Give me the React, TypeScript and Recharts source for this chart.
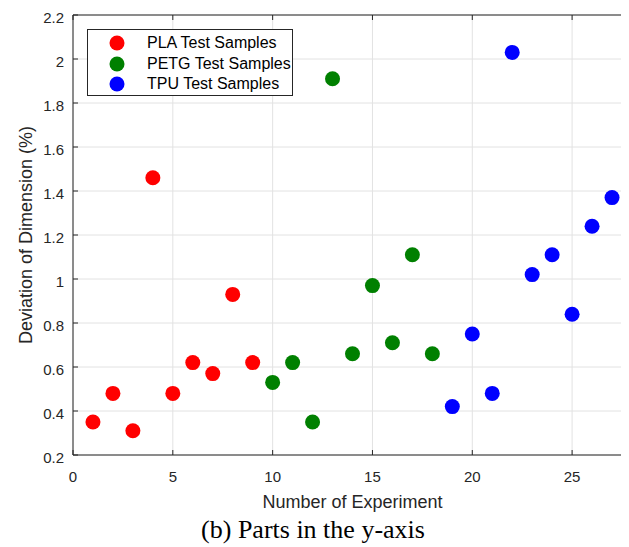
import React from 'react';
import { ScatterChart, Scatter, XAxis, YAxis, CartesianGrid, Legend, Label } from 'recharts';

const SERIES_NAMES = ['PLA Test Samples', 'PETG Test Samples', 'TPU Test Samples'];
const SERIES_COLORS = ['#ff0000', '#008000', '#0000ff'];

const PLA_X = [1, 2, 3, 4, 5, 6, 7, 8, 9];
const PLA_Y = [0.35, 0.48, 0.31, 1.46, 0.48, 0.62, 0.57, 0.93, 0.62];
const PETG_X = [10, 11, 12, 13, 14, 15, 16, 17, 18];
const PETG_Y = [0.53, 0.62, 0.35, 1.91, 0.66, 0.97, 0.71, 1.11, 0.66];
const TPU_X = [19, 20, 21, 22, 23, 24, 25, 26, 27];
const TPU_Y = [0.42, 0.75, 0.48, 2.03, 1.02, 1.11, 0.84, 1.24, 1.37];

const X_TICKS = [0, 5, 10, 15, 20, 25];
const Y_TICKS = [0.2, 0.4, 0.6, 0.8, 1, 1.2, 1.4, 1.6, 1.8, 2, 2.2];
const X_DOMAIN = [0, 28];
const Y_DOMAIN = [0.2, 2.2];

const X_LABEL = 'Number of Experiment';
const Y_LABEL = 'Deviation of Dimension (%)';
const CAPTION = '(b) Parts in the y-axis';

const toPoints = (xs: number[], ys: number[]) => xs.map((x, i) => ({ x, y: ys[i] }));
const SERIES_DATA = [toPoints(PLA_X, PLA_Y), toPoints(PETG_X, PETG_Y), toPoints(TPU_X, TPU_Y)];

const AXIS = '#262626';
const GRID = '#e2e2e2';
const FONT = '"Liberation Sans", Arial, Helvetica, sans-serif';

const makeDot = (color: string) => (props: any) => (
  <circle cx={props.cx} cy={props.cy} r={7.5} fill={color} />
);

const LegendBox = () => (
  <div
    style={{
      position: 'relative',
      width: 204,
      height: 65,
      border: '1px solid #262626',
      background: '#ffffff',
      fontFamily: FONT,
      fontSize: 16,
      color: '#000',
    }}
  >
    {SERIES_NAMES.map((name, i) => (
      <div key={name}>
        <svg
          width={18}
          height={18}
          style={{ position: 'absolute', left: 20, top: 4 + i * 20.5 }}
        >
          <circle cx={9} cy={9} r={7.5} fill={SERIES_COLORS[i]} />
        </svg>
        <span
          style={{
            position: 'absolute',
            left: 59,
            top: 3 + i * 20.5,
            lineHeight: '20px',
            whiteSpace: 'nowrap',
          }}
        >
          {name}
        </span>
      </div>
    ))}
  </div>
);

const YTick = (p: any) => (
  <text
    x={p.x}
    y={p.y + 2.5}
    dy="0.355em"
    textAnchor="end"
    fontSize={15}
    fill={AXIS}
    fontFamily={FONT}
  >
    {p.payload.value}
  </text>
);

const YLabel = (props: any) => {
  const vb = props.viewBox || { y: 7, height: 440 };
  const cy = vb.y + vb.height / 2;
  return (
    <text
      x={24}
      y={cy}
      transform={`rotate(-90, 24, ${cy})`}
      textAnchor="middle"
      fontSize={18}
      fill={AXIS}
      fontFamily={FONT}
    >
      {Y_LABEL}
    </text>
  );
};

const XLabel = () => (
  <text x={344.5} y={499.7} textAnchor="middle" fontSize={18} fill={AXIS} fontFamily={FONT}>
    {X_LABEL}
  </text>
);

export default function App() {
  return (
    <div style={{ position: 'relative', width: 621, height: 539, overflow: 'hidden' }}>
      <ScatterChart
        width={640}
        height={539}
        margin={{ top: 0, right: 0, bottom: 32, left: 0 }}
        style={{ fontFamily: FONT, background: '#fff' }}
      >
        <CartesianGrid stroke={GRID} strokeWidth={1} vertical horizontal />
        <XAxis
          type="number"
          dataKey="x"
          domain={X_DOMAIN}
          ticks={X_TICKS}
          allowDataOverflow
          height={60}
          stroke={AXIS}
          tickSize={-5}
          tickMargin={21}
          tick={{ fontSize: 15, fill: AXIS }}
          interval={0}
        >
          <Label content={XLabel} />
        </XAxis>
        <XAxis
          xAxisId="top"
          orientation="top"
          type="number"
          dataKey="x"
          domain={X_DOMAIN}
          ticks={X_TICKS}
          allowDataOverflow
          height={7}
          stroke={AXIS}
          tickSize={-5}
          tickFormatter={() => ''}
          interval={0}
        />
        <YAxis
          type="number"
          dataKey="y"
          domain={Y_DOMAIN}
          ticks={Y_TICKS}
          allowDataOverflow
          width={65}
          stroke={AXIS}
          tickSize={-5}
          tickMargin={14}
          tick={YTick}
          interval={0}
        >
          <Label content={YLabel} />
        </YAxis>
        <YAxis
          yAxisId="right"
          orientation="right"
          type="number"
          dataKey="y"
          domain={Y_DOMAIN}
          ticks={Y_TICKS}
          allowDataOverflow
          width={16}
          stroke={AXIS}
          tickSize={-5}
          tickFormatter={() => ''}
          interval={0}
        />
        <Legend
          layout="vertical"
          align="center"
          verticalAlign="middle"
          content={() => <LegendBox />}
          wrapperStyle={{ left: 79, top: 21, width: 206, height: 67 }}
        />
        {SERIES_DATA.map((data, i) => (
          <Scatter
            key={SERIES_NAMES[i]}
            name={SERIES_NAMES[i]}
            data={data}
            fill={SERIES_COLORS[i]}
            shape={makeDot(SERIES_COLORS[i])}
            isAnimationActive={false}
          />
        ))}
      </ScatterChart>
      <div
        style={{
          position: 'absolute',
          left: 0,
          width: 610,
          top: 508.5,
          textAlign: 'center',
          fontFamily: '"Liberation Serif", "Times New Roman", serif',
          fontSize: 26,
          lineHeight: '26px',
          color: '#000',
          whiteSpace: 'nowrap',
        }}
      >
        {CAPTION}
      </div>
    </div>
  );
}
